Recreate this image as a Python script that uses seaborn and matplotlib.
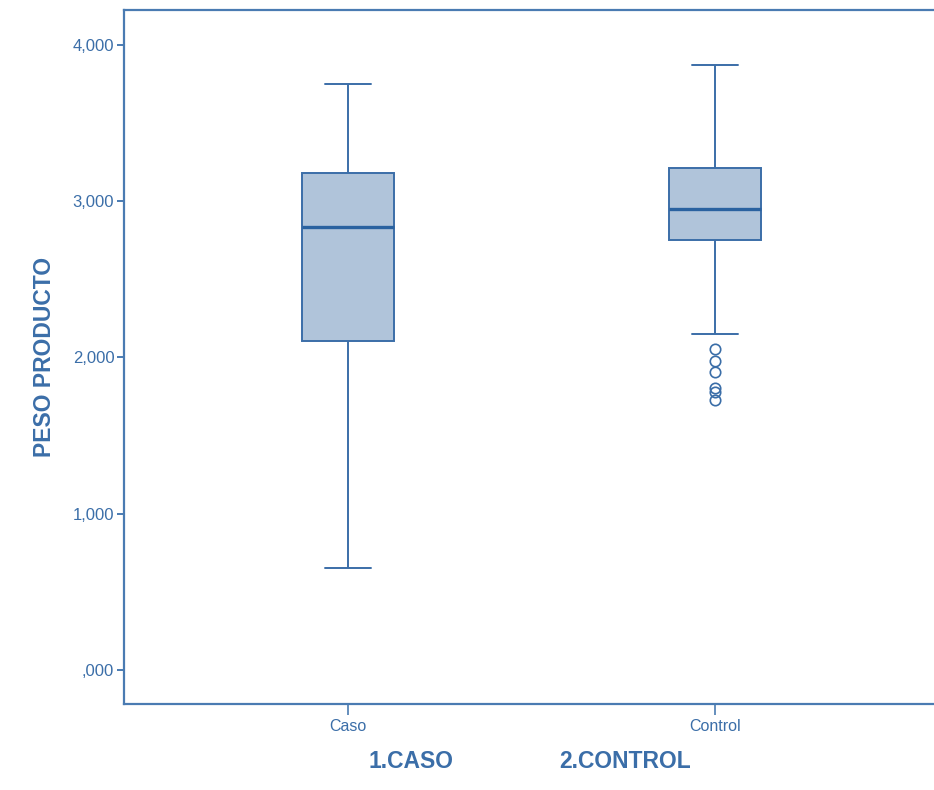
"""
Boxplot PESO PRODUCTO por grupo (caso / control), estilo SPSS.
"""
import matplotlib
matplotlib.use("Agg")
import matplotlib.pyplot as plt
import numpy as np
import pandas as pd
import seaborn as sns
from matplotlib.ticker import FuncFormatter

# resumen (bigote inf, Q1, mediana, Q3, bigote sup)
groups = ["Caso", "Control"]
whisker_lo = [653, 2150]
q1 = [2106, 2752]
median = [2835, 2950]
q3 = [3181, 3213]
whisker_hi = [3750, 3872]
outliers = [[], [2054, 1978, 1907, 1805, 1779, 1728]]
yticks = [0, 1000, 2000, 3000, 4000]
group_titles = ["1.CASO", "2.CONTROL"]

BLUE = "#3b6ea8"
FILL = "#b0c4da"
MED = "#2a62a0"


def sample_from_summary(i: int) -> list[float]:
    # muestra que reproduce exactamente los cuartiles y bigotes dados
    return (list(outliers[i]) + [whisker_lo[i]] + [q1[i]] * 8
            + [median[i]] * 8 + [q3[i]] * 8 + [whisker_hi[i]])


rows = []
for i, g in enumerate(groups):
    for v in sample_from_summary(i):
        rows.append({"grupo": g, "peso": v})
df = pd.DataFrame(rows)

sns.set_theme(style="white")
plt.rcParams["font.family"] = ["Liberation Sans Narrow", "Liberation Sans", "DejaVu Sans"]

fig = plt.figure(figsize=(9.34, 7.90), dpi=100)
ax = fig.add_axes([124 / 934, 1 - 704 / 790, 815 / 934, 694 / 790])

sns.boxplot(
    data=df, x="grupo", y="peso", order=groups, ax=ax,
    width=0.25, whis=1.5, color=FILL, saturation=1, linecolor=BLUE, linewidth=1.4,
    medianprops=dict(color=MED, linewidth=2.4),
    flierprops=dict(marker="o", markersize=7.5, markerfacecolor="none",
                    markeredgecolor=BLUE, markeredgewidth=1.2),
)

ax.set_xlim(-0.61, 1.61)
ax.set_ylim(-218, 4224)
ax.set_yticks(yticks)
ax.yaxis.set_major_formatter(FuncFormatter(lambda v, _: ",000" if v == 0 else f"{int(v):,}"))

for side in ["left", "bottom", "top"]:
    ax.spines[side].set_color("#4a7bb2")
    ax.spines[side].set_linewidth(1.6)
ax.spines["right"].set_visible(False)

ax.tick_params(axis="y", which="major", left=True, length=5, width=1.4,
               color="#4a7bb2", labelcolor=BLUE, labelsize=12, pad=2)
ax.tick_params(axis="x", which="major", bottom=True, length=8, width=1.2,
               color="#4a7bb2", labelcolor=BLUE, labelsize=11.5, pad=3)

ax.set_ylabel("PESO PRODUCTO", color=BLUE, fontsize=16.5, fontweight="bold")
ax.yaxis.set_label_coords(-0.083, 0.5)
ax.set_xlabel("")
# títulos de grupo bajo el eje, como en la salida de SPSS
for label, xc in zip(group_titles, [0.352, 0.615]):
    ax.text(xc, -0.083, label, transform=ax.transAxes, ha="center", va="center",
            color=BLUE, fontsize=16.5, fontweight="bold")

fig.savefig("out.png", dpi=100, facecolor="white")
